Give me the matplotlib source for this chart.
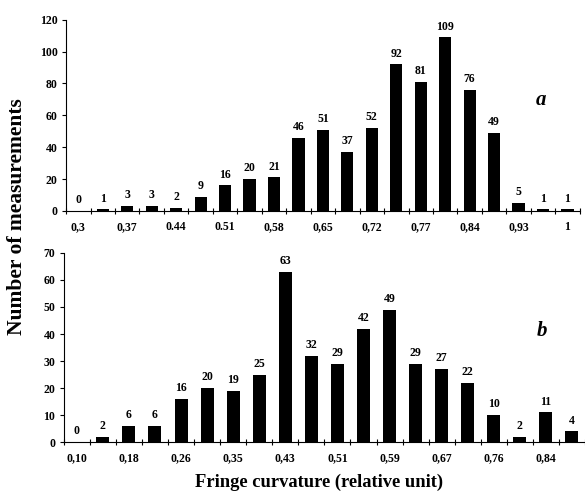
import matplotlib
matplotlib.use("Agg")
import matplotlib.pyplot as plt
import numpy as np

# panel a
counts_a = [0, 1, 3, 3, 2, 9, 16, 20, 21, 46, 51, 37, 52, 92, 81, 109, 76, 49, 5, 1, 1]
ticklabels_a = ["0,3", "0,37", "0.44", "0.51", "0,58", "0,65", "0,72", "0,77", "0,84", "0,93", "1"]
yticks_a = [0, 20, 40, 60, 80, 100, 120]

# panel b
counts_b = [0, 2, 6, 6, 16, 20, 19, 25, 63, 32, 29, 42, 49, 29, 27, 22, 10, 2, 11, 4]
ticklabels_b = ["0,10", "0,18", "0,26", "0,35", "0,43", "0,51", "0,59", "0,67", "0,76", "0,84"]
yticks_b = [0, 10, 20, 30, 40, 50, 60, 70]

plt.rcParams['font.family'] = ['Liberation Serif', 'DejaVu Serif']
plt.rcParams['font.weight'] = 'bold'

fig = plt.figure(figsize=(5.85, 4.94), dpi=100)


def draw_panel(ax, counts, labels, yticks, letter, letter_pos):
    x = np.arange(len(counts))
    ax.bar(x, counts, width=0.5, color="black")
    for xi, c in zip(x, counts):
        ax.text(xi, c + yticks[-1] * 0.025, str(c), ha="center", va="bottom",
                fontsize=8.5, fontweight="bold")
    ax.set_xlim(-0.5, len(counts) - 0.5)
    ax.set_ylim(0, yticks[-1])
    ax.set_yticks(yticks)
    ax.set_yticklabels([str(v) for v in yticks], fontsize=8.5, fontweight="bold")
    ax.set_xticks(x[::2])
    ax.set_xticklabels(labels, fontsize=8.5, fontweight="bold")
    ax.set_xticks(np.arange(len(counts) + 1) - 0.5, minor=True)
    ax.tick_params(axis="x", which="major", length=0, pad=7)
    ax.tick_params(axis="x", which="minor", length=4, direction="inout", width=0.8)
    ax.tick_params(axis="y", length=3, width=0.8, pad=3)
    for s in ["top", "right"]:
        ax.spines[s].set_visible(False)
    ax.spines["left"].set_linewidth(0.8)
    ax.spines["bottom"].set_linewidth(0.8)
    ax.text(letter_pos[0], letter_pos[1], letter, transform=ax.transAxes, fontsize=15,
            fontweight="bold", fontstyle="italic", ha="center", va="center")


ax1 = fig.add_axes([0.113, 0.573, 0.878, 0.387])
draw_panel(ax1, counts_a, ticklabels_a, yticks_a, "a", (0.925, 0.58))

ax2 = fig.add_axes([0.109, 0.105, 0.891, 0.383])
draw_panel(ax2, counts_b, ticklabels_b, yticks_b, "b", (0.917, 0.59))

fig.text(0.029, 0.562, "Number of measurements", rotation=90, ha="center", va="center",
         fontsize=15.5, fontweight="bold")
fig.text(0.545, 0.024, "Fringe curvature (relative unit)", ha="center", va="center",
         fontsize=13.3, fontweight="bold")

plt.savefig("out.png", dpi=100)
